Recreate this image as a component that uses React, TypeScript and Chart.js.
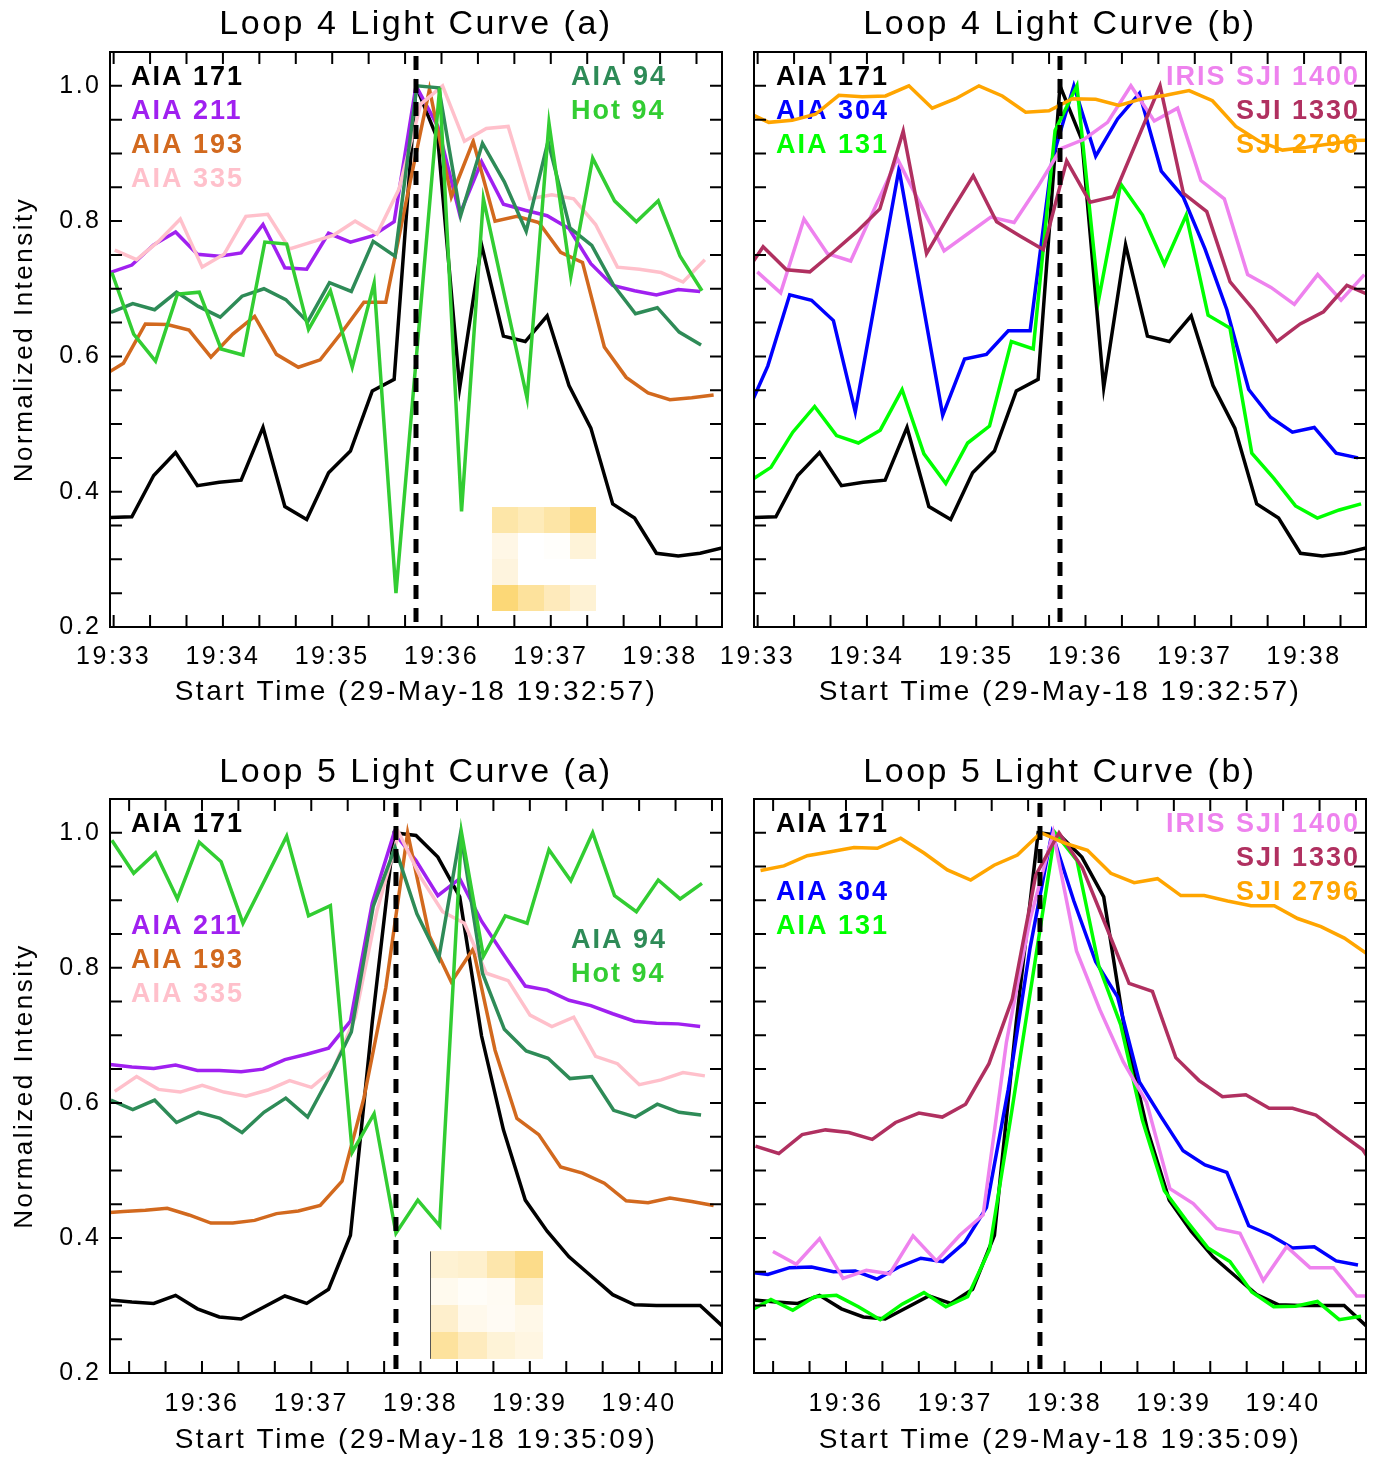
import React, { useEffect, useRef } from "react";
import { Chart, registerables } from "chart.js";

Chart.register(...registerables);

const FONT = "'Liberation Sans', Arial, sans-serif";

// ---------------- sampling ----------------
const AIA_CADENCE = 12; // s
const IRIS_CADENCE = 12.82; // s
const X_MAX = 336; // s shown on each panel
const Y_MIN = 0.2;
const Y_MAX = 1.05;

// time offsets of each channel relative to the AIA 171 frames (s)
const OFF_171 = 0;
const OFF_211 = 0;
const OFF_193 = -4.6;
const OFF_335 = 2.6;
const OFF_94 = 0.5;
const OFF_HOT94 = 1;
const OFF_304 = -4.4;
const OFF_131 = -2.7;

// ---------------- axes ----------------
const Y_LABEL_VALUES = [0.2, 0.4, 0.6, 0.8, 1.0];
const Y_MINOR_STEP = 0.05;
const MINOR_TICK_STEP = 20; // s

const L4_START = "29-May-18 19:32:57";
const L4_MINUTE_LABELS = ["19:33", "19:34", "19:35", "19:36", "19:37", "19:38"];
const L4_FIRST_MINUTE = 2; // s after start
const L5_START = "29-May-18 19:35:09";
const L5_MINUTE_LABELS = ["19:36", "19:37", "19:38", "19:39", "19:40"];
const L5_FIRST_MINUTE = 50.5;

const L4_PEAK_TIME = 168; // s, dashed line
const L5_PEAK_TIME = 157;

// ---------------- colours ----------------
const C171 = "#000000";
const C211 = "#A020F0";
const C193 = "#D2691E";
const C335 = "#FFC0CB";
const C94 = "#2E8B57";
const CHOT94 = "#32CD32";
const C304 = "#0000FF";
const C131 = "#00FF00";
const C1400 = "#EE82EE";
const C1330 = "#B03060";
const C2796 = "#FFA500";

// ---------------- Loop 4 data ----------------
const L4_171 = [0.362, 0.363, 0.424, 0.458, 0.409, 0.414, 0.417, 0.495, 0.378, 0.359, 0.428, 0.46, 0.549, 0.566, 1.0, 0.92, 0.554, 0.765, 0.63, 0.622, 0.66, 0.557, 0.494, 0.382, 0.361, 0.309, 0.305, 0.309, 0.317];
const L4_211 = [0.724, 0.735, 0.765, 0.784, 0.751, 0.748, 0.753, 0.795, 0.731, 0.729, 0.782, 0.769, 0.778, 0.799, 1.0, 0.94, 0.81, 0.888, 0.825, 0.816, 0.808, 0.789, 0.737, 0.705, 0.697, 0.691, 0.699, 0.696];
const L4_193 = [0.57, 0.59, 0.648, 0.647, 0.639, 0.599, 0.633, 0.659, 0.603, 0.584, 0.595, 0.636, 0.68, 0.68, 0.84, 0.995, 0.836, 0.918, 0.8, 0.807, 0.798, 0.754, 0.739, 0.614, 0.569, 0.546, 0.536, 0.539, 0.543];
const L4_335 = [0.757, 0.743, 0.77, 0.803, 0.732, 0.751, 0.807, 0.81, 0.759, 0.769, 0.779, 0.8, 0.781, 0.847, 0.973, 1.0, 0.918, 0.937, 0.94, 0.833, 0.839, 0.833, 0.795, 0.732, 0.729, 0.724, 0.71, 0.743];
const L4_94 = [0.665, 0.678, 0.669, 0.695, 0.674, 0.658, 0.689, 0.7, 0.684, 0.651, 0.709, 0.696, 0.77, 0.748, 1.0, 0.997, 0.808, 0.915, 0.858, 0.785, 0.918, 0.79, 0.764, 0.705, 0.663, 0.672, 0.636, 0.617];
const L4_HOT94 = [0.724, 0.633, 0.593, 0.692, 0.695, 0.611, 0.602, 0.769, 0.766, 0.64, 0.697, 0.584, 0.708, 0.25, 0.624, 0.997, 0.371, 0.833, 0.685, 0.538, 0.945, 0.718, 0.893, 0.83, 0.799, 0.83, 0.748, 0.697];
const L4_304 = [0.513, 0.586, 0.691, 0.683, 0.653, 0.518, 0.698, 0.877, 0.695, 0.513, 0.596, 0.603, 0.638, 0.638, 0.89, 1.0, 0.896, 0.951, 0.989, 0.874, 0.836, 0.759, 0.669, 0.551, 0.51, 0.488, 0.495, 0.457, 0.45];
const L4_131 = [0.415, 0.436, 0.488, 0.526, 0.483, 0.472, 0.491, 0.551, 0.456, 0.412, 0.472, 0.497, 0.622, 0.611, 0.934, 1.0, 0.685, 0.855, 0.809, 0.736, 0.809, 0.661, 0.642, 0.457, 0.42, 0.379, 0.361, 0.373, 0.382];
const L4_1400_START = 1.8;
const L4_1400 = [0.725, 0.694, 0.803, 0.752, 0.741, 0.817, 0.892, 0.824, 0.756, 0.781, 0.806, 0.798, 0.85, 0.907, 0.921, 0.946, 1.0, 0.948, 0.967, 0.86, 0.833, 0.721, 0.702, 0.677, 0.721, 0.683, 0.721];
const L4_1330_START = -7.82;
const L4_1330 = [0.711, 0.762, 0.728, 0.725, 0.754, 0.784, 0.818, 0.933, 0.752, 0.811, 0.867, 0.799, 0.778, 0.758, 0.889, 0.828, 0.836, 0.918, 1.0, 0.841, 0.814, 0.71, 0.669, 0.622, 0.648, 0.666, 0.705, 0.69];
const L4_2796_START = -4.7;
const L4_2796 = [0.962, 0.946, 0.949, 0.958, 0.986, 0.984, 0.985, 1.0, 0.967, 0.981, 1.0, 0.985, 0.961, 0.963, 0.981, 0.98, 0.971, 0.981, 0.986, 0.993, 0.978, 0.94, 0.918, 0.905, 0.909, 0.914, 0.919, 0.92];

// ---------------- Loop 5 data ----------------
const L5_171 = [0.308, 0.305, 0.303, 0.315, 0.295, 0.283, 0.28, 0.297, 0.314, 0.303, 0.324, 0.404, 0.72, 1.0, 0.996, 0.964, 0.905, 0.699, 0.56, 0.456, 0.41, 0.372, 0.344, 0.316, 0.301, 0.3, 0.3, 0.3, 0.27];
const L5_211 = [0.657, 0.653, 0.651, 0.656, 0.648, 0.648, 0.646, 0.65, 0.664, 0.672, 0.681, 0.721, 0.896, 1.0, 0.959, 0.907, 0.932, 0.869, 0.82, 0.773, 0.767, 0.752, 0.744, 0.732, 0.721, 0.718, 0.717, 0.713];
const L5_193 = [0.437, 0.439, 0.441, 0.444, 0.434, 0.422, 0.422, 0.426, 0.436, 0.44, 0.448, 0.484, 0.607, 0.77, 1.0, 0.847, 0.779, 0.828, 0.678, 0.577, 0.553, 0.505, 0.496, 0.481, 0.455, 0.452, 0.459, 0.454, 0.448];
const L5_335 = [0.617, 0.639, 0.62, 0.616, 0.626, 0.616, 0.61, 0.619, 0.633, 0.623, 0.65, 0.727, 0.885, 1.0, 0.934, 0.883, 0.866, 0.792, 0.781, 0.73, 0.713, 0.727, 0.669, 0.658, 0.627, 0.634, 0.645, 0.64];
const L5_94 = [0.604, 0.59, 0.604, 0.571, 0.586, 0.577, 0.556, 0.586, 0.607, 0.579, 0.639, 0.705, 0.891, 0.978, 0.88, 0.814, 1.0, 0.792, 0.709, 0.677, 0.666, 0.636, 0.639, 0.589, 0.579, 0.598, 0.586, 0.582];
const L5_HOT94 = [0.989, 0.94, 0.97, 0.902, 0.986, 0.957, 0.866, 0.93, 0.995, 0.877, 0.892, 0.527, 0.584, 0.407, 0.456, 0.418, 1.0, 0.817, 0.877, 0.866, 0.975, 0.929, 1.0, 0.907, 0.883, 0.93, 0.902, 0.925];
const L5_304 = [0.35, 0.346, 0.356, 0.357, 0.35, 0.351, 0.339, 0.357, 0.37, 0.365, 0.393, 0.445, 0.62, 0.83, 1.0, 0.899, 0.809, 0.757, 0.631, 0.579, 0.529, 0.508, 0.497, 0.418, 0.404, 0.385, 0.387, 0.366, 0.36];
const L5_131 = [0.291, 0.309, 0.293, 0.313, 0.315, 0.298, 0.279, 0.302, 0.319, 0.298, 0.313, 0.383, 0.584, 0.792, 1.0, 0.959, 0.803, 0.716, 0.574, 0.47, 0.426, 0.385, 0.365, 0.32, 0.298, 0.299, 0.306, 0.279, 0.284];
const L5_1400_START = 10.4;
const L5_1400 = [0.38, 0.361, 0.399, 0.34, 0.352, 0.347, 0.403, 0.366, 0.404, 0.434, 0.69, 0.87, 1.0, 0.825, 0.738, 0.661, 0.601, 0.473, 0.451, 0.414, 0.407, 0.337, 0.387, 0.356, 0.356, 0.314, 0.314];
const L5_1330_START = 0.8;
const L5_1330 = [0.536, 0.525, 0.553, 0.56, 0.556, 0.546, 0.571, 0.585, 0.579, 0.598, 0.658, 0.754, 0.937, 1.0, 0.948, 0.863, 0.777, 0.765, 0.667, 0.633, 0.609, 0.612, 0.592, 0.592, 0.582, 0.556, 0.531, 0.48];
const L5_2796_START = 3.6;
const L5_2796 = [0.944, 0.951, 0.966, 0.972, 0.978, 0.977, 0.992, 0.97, 0.945, 0.93, 0.952, 0.967, 1.0, 0.985, 0.974, 0.94, 0.926, 0.932, 0.907, 0.907, 0.899, 0.892, 0.892, 0.873, 0.861, 0.844, 0.82];

// ---------------- inset thumbnails (4x4 cells) ----------------
const L4_INSET_COLORS = [
  ["#FDE6A8", "#FEEBB9", "#FDE5A6", "#FCD97F"],
  ["#FFF7E6", "#FFFFFF", "#FFFEFB", "#FEF3D8"],
  ["#FEF4DE", "#FFFFFF", "#FFFFFF", "#FFFFFF"],
  ["#FCD877", "#FDE29C", "#FEEABB", "#FEF2D4"],
];
const L5_INSET_COLORS = [
  ["#FEF2D3", "#FEF0CD", "#FDE6AC", "#FCDC8A"],
  ["#FFFAEE", "#FFFDF8", "#FFFBF3", "#FEEFC9"],
  ["#FEEFCC", "#FFF9EC", "#FFFBF4", "#FFF8E8"],
  ["#FDE29D", "#FEEBBE", "#FEF3D7", "#FFF6E2"],
];

// ---------------- legends ----------------
const LEG_AIA_A_LEFT = [
  { text: "AIA 171", color: C171 },
  { text: "AIA 211", color: C211 },
  { text: "AIA 193", color: C193 },
  { text: "AIA 335", color: C335 },
];
const LEG_AIA_A_RIGHT = [
  { text: "AIA 94", color: C94 },
  { text: "Hot 94", color: CHOT94 },
];
const LEG_B_LEFT = [
  { text: "AIA 171", color: C171 },
  { text: "AIA 304", color: C304 },
  { text: "AIA 131", color: C131 },
];
const LEG_B_RIGHT = [
  { text: "IRIS SJI 1400", color: C1400 },
  { text: "SJI 1330", color: C1330 },
  { text: "SJI 2796", color: C2796 },
];

// ---------------- helpers ----------------
type Pt = { x: number; y: number };
const aia = (vals: number[], off: number): Pt[] => vals.map((v, i) => ({ x: i * AIA_CADENCE + off, y: v }));
const iris = (vals: number[], start: number): Pt[] => vals.map((v, j) => ({ x: start + j * IRIS_CADENCE, y: v }));

function xTicks(first: number, labels: string[]) {
  const vals: number[] = [];
  const texts: string[] = [];
  let t = first;
  while (t - MINOR_TICK_STEP >= 0) t -= MINOR_TICK_STEP;
  for (; t <= X_MAX + 1e-9; t += MINOR_TICK_STEP) {
    vals.push(t);
    const m = (t - first) / 60;
    const mi = Math.round(m);
    texts.push(Math.abs(m - mi) < 1e-6 && mi >= 0 && mi < labels.length ? labels[mi] : "");
  }
  return { vals, texts };
}

const Y_MINOR: number[] = [];
for (let k = 0; Y_MIN + k * Y_MINOR_STEP <= Y_MAX + 1e-9; k++) Y_MINOR.push(+(Y_MIN + k * Y_MINOR_STEP).toFixed(3));

interface Series { label: string; color: string; data: Pt[] }
interface LegendGroup { items: { text: string; color: string }[]; dx: number; dys: number[]; align: "left" | "right" }
interface PanelCfg {
  left: number; top: number; w: number; h: number;
  padRight: number; yAxisW: number; xAxisH: number;
  titlePadTop: number; titlePadBottom: number; xTickPad: number; xTitlePadBottom: number;
  showY: boolean; title: string; start: string; firstMinute: number; minuteLabels: string[];
  peak: number; series: Series[]; legend: LegendGroup[];
  inset?: { t0: number; t1: number; v0: number; v1: number; colors: string[][]; leftBorder?: boolean };
}

const L4_A_SERIES: Series[] = [
  { label: "AIA 171", color: C171, data: aia(L4_171, OFF_171) },
  { label: "AIA 211", color: C211, data: aia(L4_211, OFF_211) },
  { label: "AIA 193", color: C193, data: aia(L4_193, OFF_193) },
  { label: "AIA 335", color: C335, data: aia(L4_335, OFF_335) },
  { label: "AIA 94", color: C94, data: aia(L4_94, OFF_94) },
  { label: "Hot 94", color: CHOT94, data: aia(L4_HOT94, OFF_HOT94) },
];
const L4_B_SERIES: Series[] = [
  { label: "AIA 171", color: C171, data: aia(L4_171, OFF_171) },
  { label: "AIA 304", color: C304, data: aia(L4_304, OFF_304) },
  { label: "AIA 131", color: C131, data: aia(L4_131, OFF_131) },
  { label: "IRIS SJI 1400", color: C1400, data: iris(L4_1400, L4_1400_START) },
  { label: "SJI 1330", color: C1330, data: iris(L4_1330, L4_1330_START) },
  { label: "SJI 2796", color: C2796, data: iris(L4_2796, L4_2796_START) },
];
const L5_A_SERIES: Series[] = [
  { label: "AIA 171", color: C171, data: aia(L5_171, OFF_171) },
  { label: "AIA 211", color: C211, data: aia(L5_211, OFF_211) },
  { label: "AIA 193", color: C193, data: aia(L5_193, OFF_193) },
  { label: "AIA 335", color: C335, data: aia(L5_335, OFF_335) },
  { label: "AIA 94", color: C94, data: aia(L5_94, OFF_94) },
  { label: "Hot 94", color: CHOT94, data: aia(L5_HOT94, OFF_HOT94) },
];
const L5_B_SERIES: Series[] = [
  { label: "AIA 171", color: C171, data: aia(L5_171, OFF_171) },
  { label: "AIA 304", color: C304, data: aia(L5_304, OFF_304) },
  { label: "AIA 131", color: C131, data: aia(L5_131, OFF_131) },
  { label: "IRIS SJI 1400", color: C1400, data: iris(L5_1400, L5_1400_START) },
  { label: "SJI 1330", color: C1330, data: iris(L5_1330, L5_1330_START) },
  { label: "SJI 2796", color: C2796, data: iris(L5_2796, L5_2796_START) },
];

const TOP_ROW = { top: 0, h: 720, xAxisH: 93, titlePadTop: 4.6, titlePadBottom: 6.6, xTickPad: 15, xTitlePadBottom: 11.2 };
const BOT_ROW = { top: 740, h: 717, xAxisH: 84, titlePadTop: 12.6, titlePadBottom: 5.6, xTickPad: 16, xTitlePadBottom: 0.2 };
const LEFT_COL = { left: 0, w: 740, padRight: 18, yAxisW: 110, showY: true };
const RIGHT_COL = { left: 690, w: 687, padRight: 11, yAxisW: 64, showY: false };

const PANELS: PanelCfg[] = [
  {
    ...TOP_ROW, ...LEFT_COL, title: "Loop 4 Light Curve (a)", start: L4_START, firstMinute: L4_FIRST_MINUTE,
    minuteLabels: L4_MINUTE_LABELS, peak: L4_PEAK_TIME, series: L4_A_SERIES,
    legend: [
      { items: LEG_AIA_A_LEFT, dx: 21, dys: [33, 67, 101, 135], align: "left" },
      { items: LEG_AIA_A_RIGHT, dx: 461, dys: [33, 67], align: "left" },
    ],
    inset: { t0: 209.7, t1: 266.8, v0: 0.377, v1: 0.223, colors: L4_INSET_COLORS },
  },
  {
    ...TOP_ROW, ...RIGHT_COL, title: "Loop 4 Light Curve (b)", start: L4_START, firstMinute: L4_FIRST_MINUTE,
    minuteLabels: L4_MINUTE_LABELS, peak: L4_PEAK_TIME, series: L4_B_SERIES,
    legend: [
      { items: LEG_B_LEFT, dx: 22, dys: [33, 67, 101], align: "left" },
      { items: LEG_B_RIGHT, dx: 8, dys: [33, 67, 101], align: "right" },
    ],
  },
  {
    ...BOT_ROW, ...LEFT_COL, title: "Loop 5 Light Curve (a)", start: L5_START, firstMinute: L5_FIRST_MINUTE,
    minuteLabels: L5_MINUTE_LABELS, peak: L5_PEAK_TIME, series: L5_A_SERIES,
    legend: [
      { items: LEG_AIA_A_LEFT, dx: 21, dys: [33, 135, 169, 203], align: "left" },
      { items: LEG_AIA_A_RIGHT, dx: 461, dys: [149, 183], align: "left" },
    ],
    inset: { t0: 175.7, t1: 237.9, v0: 0.38, v1: 0.221, colors: L5_INSET_COLORS, leftBorder: true },
  },
  {
    ...BOT_ROW, ...RIGHT_COL, title: "Loop 5 Light Curve (b)", start: L5_START, firstMinute: L5_FIRST_MINUTE,
    minuteLabels: L5_MINUTE_LABELS, peak: L5_PEAK_TIME, series: L5_B_SERIES,
    legend: [
      { items: LEG_B_LEFT, dx: 22, dys: [33, 101, 135], align: "left" },
      { items: LEG_B_RIGHT, dx: 8, dys: [33, 67, 101], align: "right" },
    ],
  },
];

function decorPlugin(p: PanelCfg, xVals: number[]) {
  return {
    id: "decor",
    beforeDraw(chart: any) {
      chart.ctx.letterSpacing = "2.5px";
    },
    beforeDatasetsDraw(chart: any) {
      const { ctx, chartArea: a, scales } = chart;
      const xs = scales.x;
      const ys = scales.y;
      if (p.inset) {
        const ins = p.inset;
        const x0 = xs.getPixelForValue(ins.t0);
        const x1 = xs.getPixelForValue(ins.t1);
        const y0 = ys.getPixelForValue(ins.v0);
        const y1 = ys.getPixelForValue(ins.v1);
        const rows = ins.colors.length;
        const cols = ins.colors[0].length;
        ctx.save();
        for (let r = 0; r < rows; r++) {
          for (let c = 0; c < cols; c++) {
            const cx0 = Math.round(x0 + ((x1 - x0) * c) / cols);
            const cx1 = Math.round(x0 + ((x1 - x0) * (c + 1)) / cols);
            const cy0 = Math.round(y0 + ((y1 - y0) * r) / rows);
            const cy1 = Math.round(y0 + ((y1 - y0) * (r + 1)) / rows);
            ctx.fillStyle = ins.colors[r][c];
            ctx.fillRect(cx0, cy0, cx1 - cx0, cy1 - cy0);
          }
        }
        if (ins.leftBorder) {
          ctx.strokeStyle = "#555";
          ctx.lineWidth = 1;
          ctx.beginPath();
          ctx.moveTo(Math.round(x0) + 0.5, y0);
          ctx.lineTo(Math.round(x0) + 0.5, y1);
          ctx.stroke();
        }
        ctx.restore();
      }
      ctx.save();
      ctx.font = `bold 27px ${FONT}`;
      ctx.letterSpacing = "2px";
      ctx.textBaseline = "alphabetic";
      for (const g of p.legend) {
        g.items.forEach((it, i) => {
          ctx.fillStyle = it.color;
          if (g.align === "right") {
            ctx.textAlign = "right";
            ctx.fillText(it.text, a.right - g.dx + 2, a.top + g.dys[i]);
          } else {
            ctx.textAlign = "left";
            ctx.fillText(it.text, a.left + g.dx, a.top + g.dys[i]);
          }
        });
      }
      ctx.restore();
    },
    afterDatasetsDraw(chart: any) {
      const { ctx, chartArea: a, scales } = chart;
      const xs = scales.x;
      const ys = scales.y;
      ctx.save();
      // dashed peak line
      const px = xs.getPixelForValue(p.peak);
      ctx.strokeStyle = "#000";
      ctx.lineWidth = 5;
      ctx.setLineDash([14, 9]);
      ctx.beginPath();
      ctx.moveTo(px, a.top + 4);
      ctx.lineTo(px, a.bottom);
      ctx.stroke();
      ctx.setLineDash([]);
      // frame
      ctx.lineWidth = 2;
      ctx.strokeRect(a.left, a.top, a.right - a.left, a.bottom - a.top);
      // inward ticks on all four sides
      const TL = 12;
      ctx.lineWidth = 2;
      ctx.beginPath();
      for (const v of xVals) {
        const x = xs.getPixelForValue(v);
        ctx.moveTo(x, a.bottom);
        ctx.lineTo(x, a.bottom - TL);
        ctx.moveTo(x, a.top);
        ctx.lineTo(x, a.top + TL);
      }
      for (const v of Y_MINOR) {
        const y = ys.getPixelForValue(v);
        ctx.moveTo(a.left, y);
        ctx.lineTo(a.left + TL, y);
        ctx.moveTo(a.right, y);
        ctx.lineTo(a.right - TL, y);
      }
      ctx.stroke();
      ctx.restore();
    },
  };
}

function Panel({ p }: { p: PanelCfg }) {
  const ref = useRef<HTMLCanvasElement>(null);
  useEffect(() => {
    const canvas = ref.current;
    if (!canvas) return;
    const { vals: xVals, texts: xTexts } = xTicks(p.firstMinute, p.minuteLabels);
    // datasets: first entry is drawn on top, so reverse the plotting order
    const datasets = p.series
      .slice()
      .reverse()
      .map((s) => ({
        label: s.label,
        data: s.data,
        borderColor: s.color,
        backgroundColor: s.color,
        borderWidth: 3.5,
        pointRadius: 0,
        pointHoverRadius: 0,
        tension: 0,
        fill: false,
        clip: 0,
      }));
    const chart = new Chart(canvas, {
      type: "line",
      data: { datasets } as any,
      options: {
        responsive: false,
        animation: false,
        events: [],
        layout: { padding: { left: 0, top: 0, right: p.padRight, bottom: 0 } },
        plugins: {
          legend: { display: false },
          tooltip: { enabled: false },
          title: {
            display: true,
            text: p.title,
            fullSize: false,
            color: "#000",
            font: { family: FONT, size: 34, weight: "normal", lineHeight: 1.2 },
            padding: { top: p.titlePadTop, bottom: p.titlePadBottom },
          },
        },
        scales: {
          x: {
            type: "linear",
            min: 0,
            max: X_MAX,
            grid: { display: false, drawTicks: false },
            border: { display: false },
            ticks: {
              autoSkip: false,
              maxRotation: 0,
              minRotation: 0,
              padding: p.xTickPad,
              color: "#000",
              font: { family: FONT, size: 25 },
              callback: (_v: any, i: number) => xTexts[i] ?? "",
            },
            afterBuildTicks: (s: any) => {
              s.ticks = xVals.map((value) => ({ value }));
            },
            afterFit: (s: any) => {
              s.height = p.xAxisH;
            },
            title: {
              display: true,
              text: `Start Time (${p.start})`,
              color: "#000",
              font: { family: FONT, size: 28, lineHeight: 1.2 },
              padding: { top: 0, bottom: p.xTitlePadBottom },
            },
          },
          y: {
            type: "linear",
            min: Y_MIN,
            max: Y_MAX,
            grid: { display: false, drawTicks: false },
            border: { display: false },
            ticks: {
              display: p.showY,
              padding: 8.5,
              color: "#000",
              font: { family: FONT, size: 25 },
              callback: (v: any) => Number(v).toFixed(1),
            },
            afterBuildTicks: (s: any) => {
              s.ticks = Y_LABEL_VALUES.map((value) => ({ value }));
            },
            afterFit: (s: any) => {
              s.width = p.yAxisW;
            },
            title: {
              display: p.showY,
              text: "Normalized Intensity",
              color: "#000",
              font: { family: FONT, size: 26, lineHeight: 1.2 },
              padding: { top: 9.4, bottom: 0 },
            },
          },
        },
      } as any,
      plugins: [decorPlugin(p, xVals) as any],
    });
    return () => chart.destroy();
  }, [p]);
  return (
    <canvas
      ref={ref}
      width={p.w}
      height={p.h}
      style={{ position: "absolute", left: p.left, top: p.top, width: p.w, height: p.h }}
    />
  );
}

export default function App() {
  return (
    <div style={{ position: "absolute", left: 0, top: 0, width: 1377, height: 1457, background: "#fff" }}>
      {PANELS.map((p, i) => (
        <Panel key={i} p={p} />
      ))}
    </div>
  );
}
